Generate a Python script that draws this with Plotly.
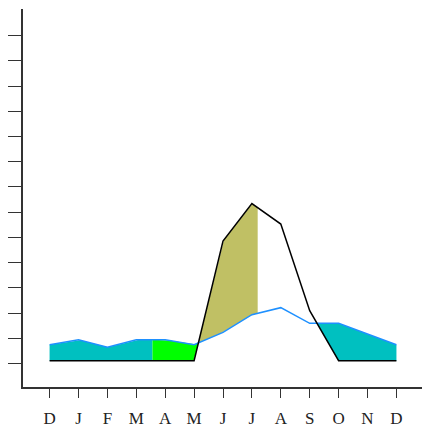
import numpy as np
import plotly.graph_objects as go

# ---- data ----
months = ["D", "J", "F", "M", "A", "M", "J", "J", "A", "S", "O", "N", "D"]
precip = [0.12, 0.12, 0.12, 0.12, 0.12, 0.12, 4.86, 6.34, 5.53, 2.10, 0.12, 0.12, 0.12]
temp = [0.75, 0.95, 0.65, 0.95, 0.95, 0.75, 1.24, 1.94, 2.22, 1.60, 1.60, 1.18, 0.75]
green_start = 3.56     # start of green period (month index)
surplus_end = 7.2      # end of olive (humid) shading (month index)

x = np.arange(len(months), dtype=float)
P = np.array(precip)
T = np.array(temp)


def crossings():
    out = []
    d = P - T
    for i in range(len(x) - 1):
        if d[i] * d[i + 1] < 0:
            t = d[i] / (d[i] - d[i + 1])
            out.append(x[i] + t)
    return out


cr = crossings()
c1, c2 = cr[0], cr[-1]


def band(a, b, n=200):
    xs = np.linspace(a, b, n)
    xs = np.unique(np.concatenate([xs, x[(x > a) & (x < b)]]))
    p = np.interp(xs, x, P)
    t = np.interp(xs, x, T)
    hi = np.maximum(p, t)
    lo = np.minimum(p, t)
    return np.concatenate([xs, xs[::-1]]), np.concatenate([hi, lo[::-1]])


fig = go.Figure()
for (a, b, col) in [(0, green_start, "#00C0C0"),
                    (green_start, c1, "#00FF00"),
                    (c1, surplus_end, "#C0C064"),
                    (c2, 12, "#00C0C0")]:
    bx, by = band(a, b)
    fig.add_trace(go.Scatter(x=bx, y=by, fill="toself", fillcolor=col,
                             mode="lines", line=dict(width=0), hoverinfo="skip"))

fig.add_trace(go.Scatter(x=x, y=T, mode="lines", line=dict(color="#1E90FF", width=1.5)))
fig.add_trace(go.Scatter(x=x, y=P, mode="lines", line=dict(color="#000000", width=1.5)))

# page body adds an 8px offset, so the figure is 422x420
fig.update_layout(
    width=422, height=420,
    margin=dict(l=15, r=7, t=1, b=41, autoexpand=False),
    plot_bgcolor="white", paper_bgcolor="white",
    showlegend=False,
    font=dict(family="Liberation Serif, serif", size=17, color="#222"),
)
fig.update_xaxes(
    range=[-0.92, 12.92], tickmode="array", tickvals=list(x), ticktext=months,
    showgrid=False, zeroline=False, showline=True, linecolor="#333", linewidth=1.5,
    ticks="outside", ticklen=9, tickwidth=1.3, tickcolor="#333", mirror=False,
    automargin=False, ticklabelstandoff=6,
)
fig.update_yaxes(
    range=[-0.923, 14.05], tickmode="array", tickvals=list(range(0, 14)),
    showticklabels=False, showgrid=False, zeroline=False,
    showline=True, linecolor="#333", linewidth=1.5,
    ticks="outside", ticklen=16, tickwidth=1.3, tickcolor="#333", mirror="ticks",
    automargin=False,
)
fig.write_html("out.html")
